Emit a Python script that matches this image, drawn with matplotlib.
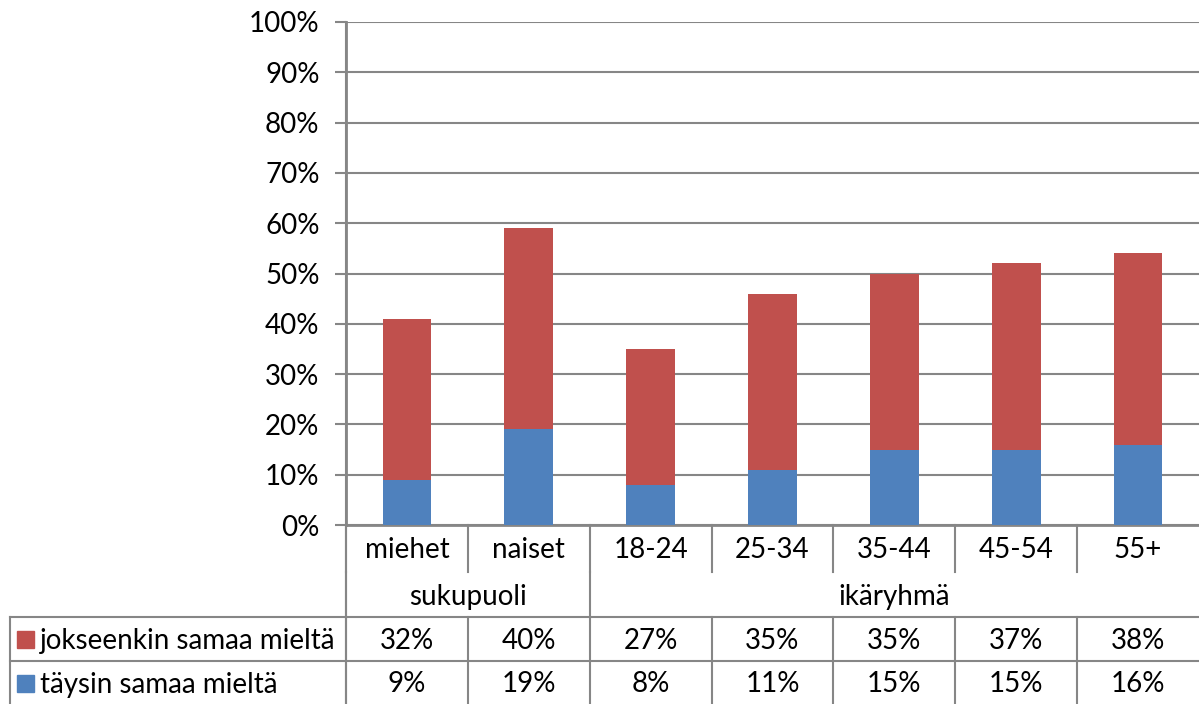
import matplotlib.pyplot as plt
from matplotlib.lines import Line2D
from matplotlib.patches import Rectangle
from matplotlib.ticker import PercentFormatter

plt.rcParams['font.family'] = ['Lato', 'DejaVu Sans']

# data
categories = ['miehet', 'naiset', '18-24', '25-34', '35-44', '45-54', '55+']
groups = ['sukupuoli', 'ikäryhmä']
group_sizes = [2, 5]
series_names = ['jokseenkin samaa mieltä', 'täysin samaa mieltä']
jokseenkin = [32, 40, 27, 35, 35, 37, 38]
taysin = [9, 19, 8, 11, 15, 15, 16]

red = '#C0504D'
blue = '#4F81BD'
gray = '#868686'
fs = 20
W, H = 1199, 704

fig = plt.figure(figsize=(W / 100, H / 100), dpi=100)

# plot area in pixels
left, right, top, bottom = 346, 1199, 22, 525
ax = fig.add_axes([left / W, 1 - bottom / H, (right - left) / W, (bottom - top) / H])

x = range(len(categories))
ax.bar(x, taysin, width=0.4, color=blue, zorder=3)
ax.bar(x, jokseenkin, width=0.4, bottom=taysin, color=red, zorder=3)

ax.set_xlim(-0.5, len(categories) - 0.5)
ax.set_ylim(0, 100)
ax.set_yticks(range(0, 101, 10))
ax.yaxis.set_major_formatter(PercentFormatter(decimals=0))
ax.set_xticks([])
ax.tick_params(axis='y', length=8, width=1.5, color=gray, labelsize=fs, pad=11)
ax.grid(axis='y', color=gray, lw=1.5, zorder=0)
for s in ['top', 'right']:
    ax.spines[s].set_visible(False)
for s in ['left', 'bottom']:
    ax.spines[s].set_color(gray)
    ax.spines[s].set_linewidth(2)


def fx(px):
    return px / W


def fy(py):
    return 1 - py / H


def hline(y, x0, x1):
    fig.add_artist(Line2D([fx(x0), fx(x1)], [fy(y), fy(y)], color=gray, lw=1.5))


def vline(x0, y0, y1):
    fig.add_artist(Line2D([fx(x0), fx(x0)], [fy(y0), fy(y1)], color=gray, lw=1.5))


col_w = (right - left) / len(categories)
cat_row, grp_row, row1, row2, table_bottom = 525, 572, 617, 661, 704
table_left = 10

# category labels, table values and separators
for i, name in enumerate(categories):
    cx = left + (i + 0.5) * col_w
    fig.text(fx(cx), fy((cat_row + grp_row) / 2 + 2), name, ha='center', va='center', fontsize=fs)
    fig.text(fx(cx), fy((row1 + row2) / 2 + 2), f'{jokseenkin[i]}%', ha='center', va='center', fontsize=fs)
    fig.text(fx(cx), fy((row2 + table_bottom) / 2 + 2), f'{taysin[i]}%', ha='center', va='center', fontsize=fs)
    bx = left + i * col_w
    vline(bx, cat_row, grp_row)
    vline(bx, row1, table_bottom)

# group labels
start = 0
for g, n in zip(groups, group_sizes):
    gx0 = left + start * col_w
    gx1 = left + (start + n) * col_w
    fig.text(fx((gx0 + gx1) / 2), fy((grp_row + row1) / 2 + 2), g, ha='center', va='center', fontsize=fs)
    vline(gx0, grp_row, row1)
    start += n
vline(left, top, table_bottom)

# table frame
hline(row1, table_left, right)
hline(row2, table_left, right)
vline(table_left, row1, table_bottom)

# row labels with colour keys
for (y0, y1), name, c in zip([(row1, row2), (row2, table_bottom)], series_names, [red, blue]):
    cy = (y0 + y1) / 2
    fig.add_artist(Rectangle((fx(17), fy(cy + 9)), fx(17), 17 / H, color=c))
    fig.text(fx(40), fy(cy + 2), name, ha='left', va='center', fontsize=fs)

fig.savefig('out.png', dpi=100)
